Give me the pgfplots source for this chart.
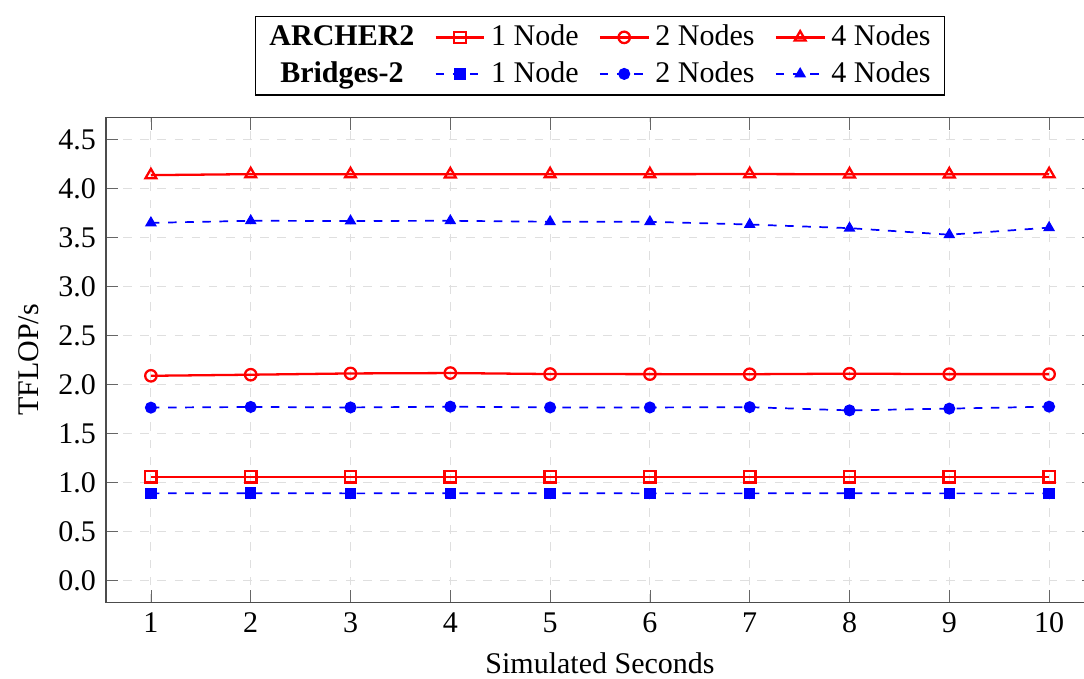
\documentclass[border=0pt]{standalone}
\usepackage{fontspec}
\setmainfont{Liberation Serif}
\usepackage{pgfplots}
\pgfplotsset{compat=1.18}

\begin{document}
\begin{tikzpicture}[font=\fontsize{10.5}{12.6}\selectfont]
\begin{axis}[
    scale only axis,
    width=345.8pt, height=169.75pt,
    xmin=1, xmax=10,
    ymin=0, ymax=4.5,
    enlargelimits=0.05,
    xtick={1,2,3,4,5,6,7,8,9,10},
    ytick={0,0.5,1,1.5,2,2.5,3,3.5,4,4.5},
    yticklabel style={/pgf/number format/fixed, /pgf/number format/fixed zerofill, /pgf/number format/precision=1},
    /pgf/number format/assume math mode=true,
    grid=major,
    major grid style={dashed, gray!25},
    axis line style={black!70},
    tick style={black!60},
    xlabel={Simulated Seconds},
    ylabel={TFLOP/s},
    legend columns=4,
    legend cell align=center,
    legend style={at={(0.5,1.045)}, anchor=south, draw=black,
        inner ysep=1pt, inner xsep=3pt, row sep=0pt,
        /tikz/every even column/.append style={column sep=5pt}},
]

% ARCHER2 (solid red)
\addlegendimage{empty legend}
\addlegendentry{\textbf{ARCHER2}}
\addplot[red, thick, mark=square, mark size=2pt] coordinates {
  (1,1.058) (2,1.058) (3,1.058) (4,1.058) (5,1.058)
  (6,1.058) (7,1.058) (8,1.058) (9,1.058) (10,1.058)
};
\addlegendentry{1 Node}
\addplot[red, thick, mark=o, mark size=2pt] coordinates {
  (1,2.088) (2,2.099) (3,2.112) (4,2.116) (5,2.106)
  (6,2.105) (7,2.104) (8,2.110) (9,2.105) (10,2.105)
};
\addlegendentry{2 Nodes}
\addplot[red, thick, mark=triangle, mark size=2.2pt] coordinates {
  (1,4.136) (2,4.146) (3,4.146) (4,4.145) (5,4.146)
  (6,4.146) (7,4.147) (8,4.145) (9,4.145) (10,4.146)
};
\addlegendentry{4 Nodes}

% Bridges-2 (dashed blue)
\addlegendimage{empty legend}
\addlegendentry{\textbf{Bridges-2}}
\addplot[blue, semithick, dashed, mark=square*, mark size=1.7pt, mark options={solid}] coordinates {
  (1,0.888) (2,0.890) (3,0.888) (4,0.889) (5,0.889)
  (6,0.888) (7,0.888) (8,0.889) (9,0.888) (10,0.888)
};
\addlegendentry{1 Node}
\addplot[blue, semithick, dashed, mark=*, mark size=1.8pt, mark options={solid}] coordinates {
  (1,1.763) (2,1.770) (3,1.765) (4,1.773) (5,1.765)
  (6,1.765) (7,1.768) (8,1.735) (9,1.753) (10,1.773)
};
\addlegendentry{2 Nodes}
\addplot[blue, semithick, dashed, mark=triangle*, mark size=1.8pt, mark options={solid}] coordinates {
  (1,3.649) (2,3.670) (3,3.668) (4,3.670) (5,3.660)
  (6,3.660) (7,3.632) (8,3.595) (9,3.528) (10,3.600)
};
\addlegendentry{4 Nodes}

\end{axis}
\pgfresetboundingbox
\path[use as bounding box] ([xshift=-37.1pt,yshift=-26.8pt]current axis.south west)
  rectangle ([xshift=-3.5pt,yshift=41.1pt]current axis.north east);
\end{tikzpicture}
\end{document}
